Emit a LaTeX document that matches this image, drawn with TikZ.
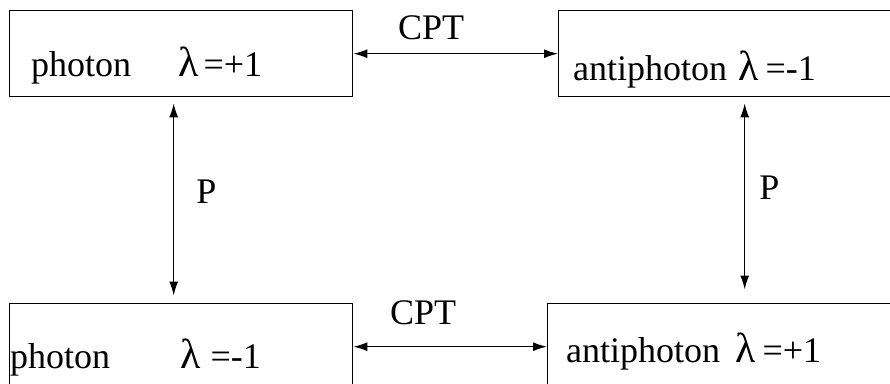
\documentclass[tikz,border=0pt]{standalone}
\usepackage{fontspec}
\setmainfont{Liberation Serif}
\usetikzlibrary{arrows.meta}

\newcommand{\lam}{{\fontsize{42}{40}\selectfont λ}}

\begin{document}
\begin{tikzpicture}[x=1pt, y=-1pt, font=\fontsize{36}{40}\selectfont,
    box/.style={draw, line width=1.4pt, minimum width=343pt, minimum height=86pt,
      anchor=north west, inner sep=0pt},
    flip/.style={<->, line width=1.3pt, >={Latex[length=14pt, width=9pt]}},
    lab/.style={inner sep=0pt}]
  \useasboundingbox (0, 0) rectangle (890, 383);
  \clip (0, 0) rectangle (890, 383);

  % boxes (right ones run off the page)
  \foreach \name / \x / \y in {
    tl/9/10,
    tr/558/10,
    bl/9/303,
    br/547/303
  }{
    \node[box] (\name) at (\x, \y) {};
  }

  % states
  \node[lab, anchor=base west] (tltext) at (31, 76) {photon\hspace{47pt}\lam\hspace{5pt}=+1};
  \node[lab, anchor=base west] (trtext) at (573, 80) {antiphoton\hspace{11pt}\lam\hspace{7pt}=-1};
  \node[lab, anchor=base west] (bltext) at (10, 368) {photon\hspace{70pt}\lam\hspace{10pt}=-1};
  \node[lab, anchor=base west] (brtext) at (566, 362) {antiphoton\hspace{15pt}\lam\hspace{7pt}=+1};

  % CPT
  \draw[flip] (tl.east) -- node[lab, pos=.38, above=13pt] (cpttop) {CPT} (tr.west);
  \draw[flip] (bl.east) -- node[lab, pos=.36, above=21pt] (cptbot) {CPT} (br.west);

  % P
  \draw[flip, shorten <=6pt, shorten >=7.5pt] ([xshift=-7.5pt]tl.south)
    -- node[lab, pos=.46, right=22pt] (pleft) {P} ([xshift=-7.5pt]tl.south |- bl.north);
  \draw[flip, shorten <=6pt, shorten >=13.5pt] ([xshift=14.5pt]tr.south)
    -- node[lab, pos=.44, right=14pt] (pright) {P} ([xshift=14.5pt]tr.south |- br.north);
\end{tikzpicture}
\end{document}
